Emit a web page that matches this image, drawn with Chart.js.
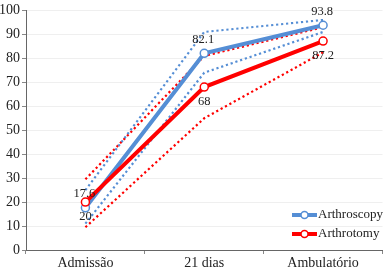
<!DOCTYPE html>
<html>
<head>
<meta charset="utf-8">
<script src="https://cdn.jsdelivr.net/npm/chart.js@4"></script>
<style>
  html, body { margin: 0; padding: 0; background: #fff; }
  canvas { display: block; }
</style>
</head>
<body>
<canvas id="chart" width="388" height="272"></canvas>
<script>
const categories = ['Admissão', '21 dias', 'Ambulatório'];
const yTicks = [0, 10, 20, 30, 40, 50, 60, 70, 80, 90, 100];

const arthroscopy = [17.6, 82.1, 93.8];
const arthroscopyUpper = [25, 91, 96];
const arthroscopyLower = [11, 74, 91];

const arthrotomy = [20, 68, 87.2];
const arthrotomyUpper = [29.5, 81, 93];
const arthrotomyLower = [9.5, 55, 82.5];

const BLUE = '#558ed5';
const RED = '#ff0000';
const FONT = '"Liberation Serif", "Times New Roman", serif';

function dotted(data, color) {
    return {
        data, borderColor: color, borderWidth: 2.2, borderDash: [2.2, 2.8],
        pointRadius: 0, fill: false, tension: 0, order: 2
    };
}

// value labels: blue above its points, red below
const valueLabels = {
    id: 'valueLabels',
    afterDatasetsDraw(c) {
        const ctx = c.ctx;
        const x = c.scales.x, y = c.scales.y;
        ctx.save();
        ctx.font = '12.5px ' + FONT;
        ctx.fillStyle = '#222';
        ctx.textAlign = 'center';
        ctx.textBaseline = 'middle';
        arthroscopy.forEach((v, i) => {
            ctx.fillText(String(v), x.getPixelForValue(i) - 1, y.getPixelForValue(v) - 14);
        });
        arthrotomy.forEach((v, i) => {
            ctx.fillText(String(v), x.getPixelForValue(i), y.getPixelForValue(v) + 15);
        });
        ctx.restore();
    }
};

// legend sitting inside the plot, bottom right
const insideLegend = {
    id: 'insideLegend',
    afterDraw(c) {
        const ctx = c.ctx;
        const items = [['Arthroscopy', BLUE, 215], ['Arthrotomy', RED, 234]];
        ctx.save();
        items.forEach(([label, color, yy]) => {
            const x0 = 292;
            ctx.strokeStyle = color;
            ctx.lineWidth = 4;
            ctx.beginPath();
            ctx.moveTo(x0, yy);
            ctx.lineTo(x0 + 25, yy);
            ctx.stroke();
            ctx.fillStyle = '#fff';
            ctx.lineWidth = 1.5;
            ctx.beginPath();
            ctx.arc(x0 + 12.5, yy, 3.5, 0, Math.PI * 2);
            ctx.fill();
            ctx.stroke();
            ctx.fillStyle = '#222';
            ctx.font = '13px ' + FONT;
            ctx.textBaseline = 'middle';
            ctx.fillText(label, x0 + 26, yy);
        });
        ctx.restore();
    }
};

new Chart(document.getElementById('chart'), {
    type: 'line',
    data: {
        labels: categories,
        datasets: [
            {
                label: 'Arthroscopy', data: arthroscopy, borderColor: BLUE, borderWidth: 4,
                pointRadius: 4, pointBackgroundColor: '#fff', pointBorderColor: BLUE,
                pointBorderWidth: 1.5, tension: 0, order: 1
            },
            {
                label: 'Arthrotomy', data: arthrotomy, borderColor: RED, borderWidth: 4,
                pointRadius: 4, pointBackgroundColor: '#fff', pointBorderColor: RED,
                pointBorderWidth: 1.5, tension: 0, order: 0
            },
            dotted(arthroscopyUpper, BLUE),
            dotted(arthroscopyLower, BLUE),
            dotted(arthrotomyUpper, RED),
            dotted(arthrotomyLower, RED)
        ]
    },
    options: {
        responsive: false,
        animation: false,
        devicePixelRatio: 1,
        layout: { padding: { top: 6, right: 1, left: 0, bottom: 0 } },
        plugins: { legend: { display: false }, tooltip: { enabled: false } },
        scales: {
            x: {
                offset: true,
                grid: { offset: true, drawOnChartArea: false, drawTicks: true, tickLength: 4, color: '#888' },
                border: { color: '#666', width: 1 },
                ticks: { color: '#222', font: { family: FONT, size: 14 }, padding: 1 },
                afterFit: s => { s.height = 22; }
            },
            y: {
                min: 0, max: 100,
                afterBuildTicks: s => { s.ticks = yTicks.map(v => ({ value: v })); },
                grid: { color: '#efefef', tickLength: 4, tickColor: '#888' },
                border: { color: '#666', width: 1 },
                ticks: { color: '#222', font: { family: FONT, size: 14 }, padding: 2 },
                afterFit: s => { s.width = 26; }
            }
        }
    },
    plugins: [valueLabels, insideLegend]
});
</script>
</body>
</html>
